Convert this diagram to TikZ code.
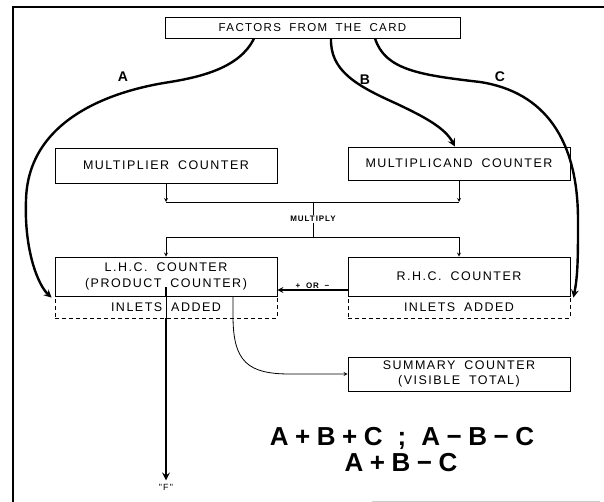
\documentclass[tikz,border=0pt]{standalone}
\usepackage{fontspec}
\setmainfont{Liberation Sans}
\newfontfamily\lettering[LetterSpace=12,WordSpace=1.8]{Liberation Sans}
\newfontfamily\bigletter[LetterSpace=25,WordSpace=1.1]{Liberation Sans}
\usetikzlibrary{positioning}

\begin{document}
\begin{tikzpicture}[
x=1pt,y=-1pt,
>=stealth,
box/.style={draw,line width=0.8pt,minimum width=222pt,inner sep=0pt,align=center,font={\lettering\fontsize{12.5}{15.5}\selectfont}},
inlet/.style={box,dash pattern=on 4pt off 3pt,minimum height=22pt},
wire/.style={draw,line width=0.8pt},
flow/.style={wire,->},
feed/.style={draw,line width=2.4pt,->},
routelabel/.style={font={\lettering\bfseries\fontsize{14}{16}\selectfont}},
note/.style={font={\lettering\bfseries\fontsize{8}{9}\selectfont},inner sep=1pt},
node distance=30.5pt
]
\useasboundingbox (0,0) rectangle (604,502);

% frame
\draw[line width=2.6pt] (13,502) -- (13,7) -- (604,7);
\draw[gray!40,line width=1pt] (372,501) -- (600,501);

\node[box,minimum width=295pt,minimum height=21pt,font={\lettering\fontsize{11.5}{13}\selectfont}] (card) at (312.5,27.5) {FACTORS FROM THE CARD};
	\node[box,minimum height=35pt] (mpl) at (166,165.5) {MULTIPLIER COUNTER};
	\node[box,minimum height=33pt] (mcd) at (459,163.5) {MULTIPLICAND COUNTER};
		\node[note] (mul) at (313,219) {MULTIPLY};
	\node[box,minimum height=39pt] (lhc) at (166,276.5) {L.H.C. COUNTER\\(PRODUCT COUNTER)};
		\node[inlet] (lhcin) [below of = lhc] {INLETS ADDED};
	\node[box,minimum height=39pt] (rhc) [right of = lhc,node distance=293pt] {R.H.C. COUNTER};
		\node[inlet] (rhcin) [below of = rhc] {INLETS ADDED};
	\node[box,minimum height=34pt] (sum) [below of = rhc,node distance=97.5pt] {SUMMARY COUNTER\\(VISIBLE TOTAL)};
\node[font={\lettering\fontsize{9}{10}\selectfont}] (F) at (166,487) {"F"};

\node[routelabel] (la) at (123,77) {A};
\node[routelabel] (lb) at (365,80) {B};
\node[routelabel] (lc) at (500,77) {C};

\node[font={\bigletter\bfseries\fontsize{26}{27}\selectfont}] (eq1) at (402,438) {A+B+C ; A−B−C};
\node[font={\bigletter\bfseries\fontsize{26}{27}\selectfont}] (eq2) at (401,463) {A+B−C};

\coordinate (jl) at (166,202);
\coordinate (jr) at (459,202);
\coordinate (sl) at (166,237);
\coordinate (sr) at (459,237);
\coordinate (ftop) at (166,287);

% factors A, B, C
\path[feed] ([xshift=-58.5pt]card.south) .. controls (240,68) and (200,77) .. (170,82)
	.. controls (110,91) and (28,120) .. (26,200)
	.. controls (24,250) and (38,285) .. ([xshift=-3pt,yshift=-2pt]lhcin.north west);
\path[feed] ([xshift=18.5pt]card.south) .. controls (330,70) and (355,85) .. (395,103)
	.. controls (425,117) and (445,128) .. ([xshift=-4pt]mcd.north);
\path[feed] ([xshift=62.5pt]card.south) .. controls (385,70) and (420,75) .. (480,82)
	.. controls (545,92) and (578,140) .. (578,220)
	.. controls (578,255) and (578,275) .. ([xshift=3pt,yshift=-2pt]rhcin.north east);

% multiply
\path[flow] (mpl) -- (jl);
\path[flow] (mcd) -- (jr);
\path[wire] (jl) -- (jr);
\path[wire] (mul) -- (mul |- jl);
\path[wire] (mul) -- (mul |- sl);
\path[wire] (sl) -- (sr);
	\path[flow] (sl) -- (lhc);
	\path[flow] (sr) -- (rhc);

\path[draw,line width=1.6pt,->] ([yshift=-13.5pt]rhc.west) -- node[note,above,inner sep=0.5pt] (pm) {+ OR −} ([yshift=-13.5pt]lhc.east);

% outputs
\path[draw,line width=2.4pt] (ftop) -- (lhc.south);
\path[wire] (lhc.south) -- (lhcin.south);
\path[feed] (lhcin.south) -- (F);
\path[flow] ([xshift=67pt]lhc.south) -- (233,316) .. controls (233,362) and (248,374) .. (290,374) -- (sum.west);

\end{tikzpicture}
\end{document}
